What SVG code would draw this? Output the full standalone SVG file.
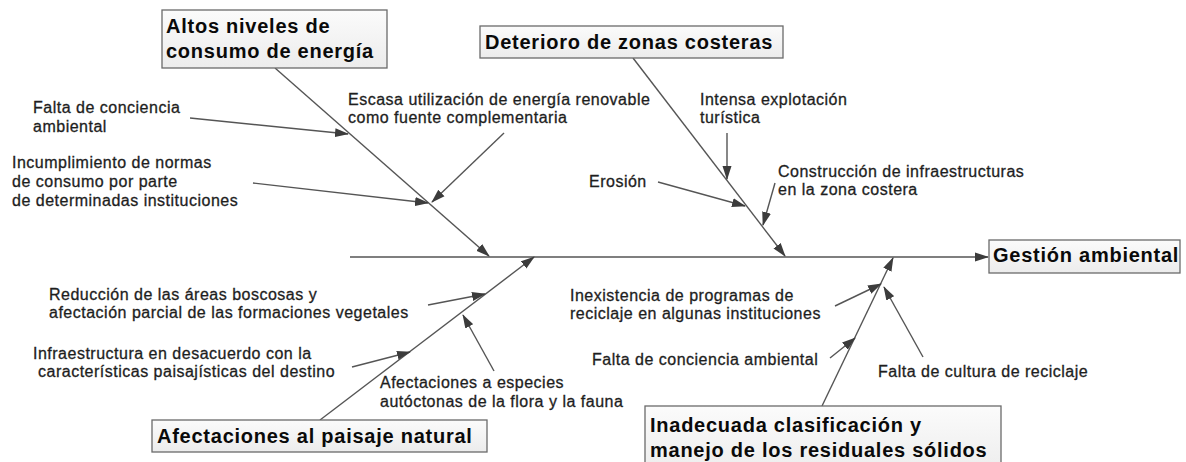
<svg xmlns="http://www.w3.org/2000/svg" width="1186" height="462" viewBox="0 0 1186 462">
<defs>
<marker id="ah" markerUnits="userSpaceOnUse" markerWidth="14" markerHeight="10" viewBox="0 0 14 10" refX="13" refY="5" orient="auto">
<path d="M0,0.5 L14,5 L0,9.5 z" fill="#3c3c3c"/>
</marker>
<linearGradient id="bg" x1="0" y1="0" x2="0" y2="1">
<stop offset="0" stop-color="#fbfbfb"/>
<stop offset="1" stop-color="#ececec"/>
</linearGradient>
</defs>
<style>
.ln{stroke:#555;stroke-width:1.4;fill:none}
.ar{marker-end:url(#ah)}
.t{font-family:"Liberation Sans",Arial,sans-serif;font-size:16px;letter-spacing:0.5px;fill:#1e1e1e;stroke:#1e1e1e;stroke-width:0.3}
.h{font-family:"Liberation Sans",Arial,sans-serif;font-size:20px;font-weight:bold;letter-spacing:0.75px;fill:#0a0a0a}
.box{fill:url(#bg);stroke:#6a6a6a;stroke-width:1.3}
</style>
<rect width="1186" height="462" fill="#ffffff"/>
<g id="connectors">
<line class="ln ar" x1="350" y1="257" x2="988" y2="257"/>
<line class="ln ar" x1="275" y1="68" x2="489" y2="256"/>
<line class="ln ar" x1="633" y1="58" x2="785" y2="256"/>
<line class="ln ar" x1="320" y1="420" x2="534" y2="257"/>
<line class="ln ar" x1="822" y1="406" x2="893" y2="258"/>
<line class="ln ar" x1="190" y1="118" x2="348" y2="134"/>
<line class="ln ar" x1="253" y1="183" x2="428" y2="203"/>
<line class="ln ar" x1="504" y1="133" x2="432" y2="202"/>
<line class="ln ar" x1="727" y1="133" x2="727" y2="179"/>
<line class="ln ar" x1="658" y1="182" x2="745" y2="206"/>
<line class="ln ar" x1="775" y1="183" x2="763" y2="225"/>
<line class="ln ar" x1="428" y1="305" x2="485" y2="294"/>
<line class="ln ar" x1="352" y1="367" x2="410" y2="352"/>
<line class="ln ar" x1="494" y1="371" x2="463" y2="315"/>
<line class="ln ar" x1="835" y1="306" x2="881" y2="284"/>
<line class="ln ar" x1="830" y1="358" x2="855" y2="338"/>
<line class="ln ar" x1="923" y1="357" x2="884" y2="287"/>
</g>
<g id="n-altos">
<rect class="box" x="162" y="10" width="225" height="58"/>
<text class="h" x="166" y="33">Altos niveles de</text>
<text class="h" x="166" y="58">consumo de energía</text>
</g>
<g id="n-deterioro">
<rect class="box" x="480" y="26" width="303" height="32"/>
<text class="h" x="485" y="49">Deterioro de zonas costeras</text>
</g>
<g id="n-afectaciones">
<rect class="box" x="152" y="420" width="335" height="32"/>
<text class="h" x="157" y="443">Afectaciones al paisaje natural</text>
</g>
<g id="n-inadecuada">
<rect class="box" x="645" y="406" width="356" height="70"/>
<text class="h" x="650" y="432">Inadecuada clasificación y</text>
<text class="h" x="650" y="457">manejo de los residuales sólidos</text>
</g>
<g id="n-gestion">
<rect class="box" x="989" y="240" width="191" height="33"/>
<text class="h" x="993" y="262">Gestión ambiental</text>
</g>
<g id="c-falta1">
<text class="t" x="33" y="113">Falta de conciencia</text>
<text class="t" x="33" y="132">ambiental</text>
</g>
<g id="c-incumplimiento">
<text class="t" x="12" y="168">Incumplimiento de normas</text>
<text class="t" x="12" y="187">de consumo por parte</text>
<text class="t" x="12" y="206">de determinadas instituciones</text>
</g>
<g id="c-escasa">
<text class="t" x="348" y="105">Escasa utilización de energía renovable</text>
<text class="t" x="348" y="123">como fuente complementaria</text>
</g>
<g id="c-intensa">
<text class="t" x="700" y="105">Intensa explotación</text>
<text class="t" x="700" y="123">turística</text>
</g>
<g id="c-erosion">
<text class="t" x="589" y="187">Erosión</text>
</g>
<g id="c-construccion">
<text class="t" x="778" y="177">Construcción de infraestructuras</text>
<text class="t" x="778" y="195">en la zona costera</text>
</g>
<g id="c-reduccion">
<text class="t" x="49" y="300">Reducción de las áreas boscosas y</text>
<text class="t" x="49" y="318">afectación parcial de las formaciones vegetales</text>
</g>
<g id="c-infraestructura">
<text class="t" x="33" y="359">Infraestructura en desacuerdo con la</text>
<text class="t" x="38" y="377">características paisajísticas del destino</text>
</g>
<g id="c-especies">
<text class="t" x="380" y="388">Afectaciones a especies</text>
<text class="t" x="380" y="407">autóctonas de la flora y la fauna</text>
</g>
<g id="c-inexistencia">
<text class="t" x="570" y="301">Inexistencia de programas de</text>
<text class="t" x="570" y="319">reciclaje en algunas instituciones</text>
</g>
<g id="c-falta2">
<text class="t" x="592" y="365">Falta de conciencia ambiental</text>
</g>
<g id="c-cultura">
<text class="t" x="878" y="377">Falta de cultura de reciclaje</text>
</g>
</svg>
